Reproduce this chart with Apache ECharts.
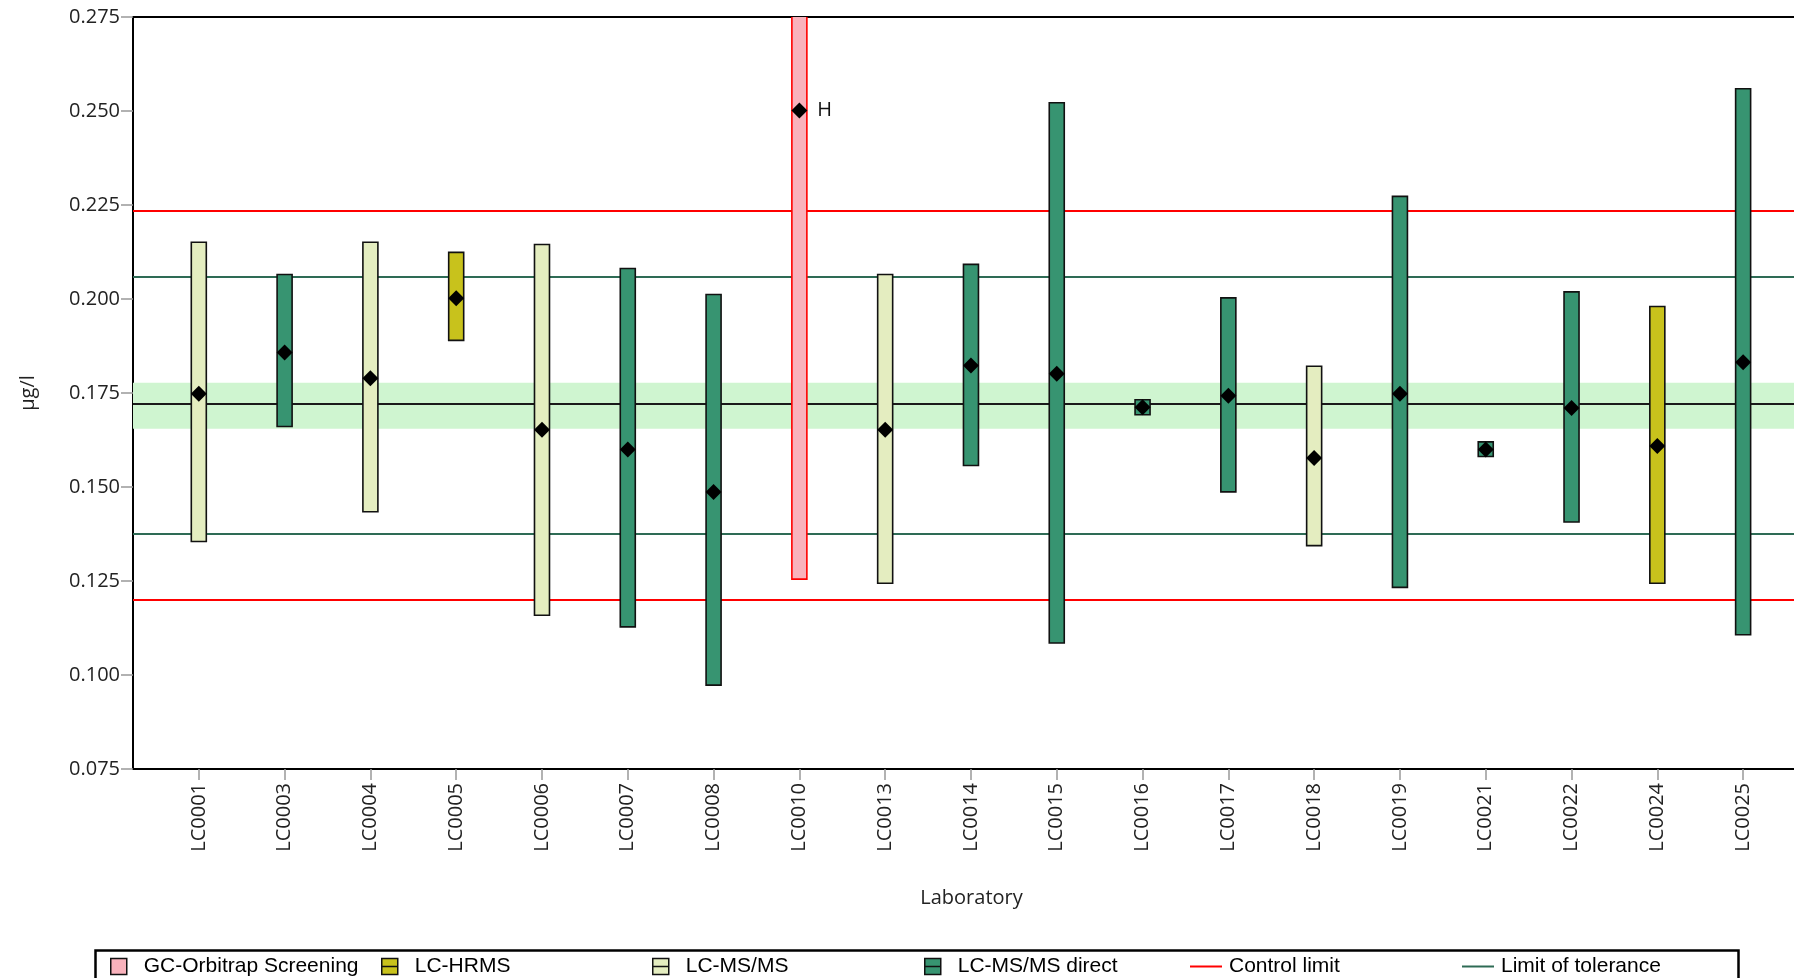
<!DOCTYPE html>
<html>
<head>
<meta charset="utf-8">
<script src="https://cdn.jsdelivr.net/npm/echarts@6/dist/echarts.min.js"></script>
<style>
html,body{margin:0;padding:0;background:#fff;}
#chart{width:1794px;height:978px;}
</style>
</head>
<body>
<div id="chart"></div>
<script>
// ---- data ----
const labs = ['LC0001','LC0003','LC0004','LC0005','LC0006','LC0007','LC0008','LC0010','LC0013','LC0014','LC0015','LC0016','LC0017','LC0018','LC0019','LC0021','LC0022','LC0024','LC0025'];
const methods = ['LC-MS/MS','LC-MS/MS direct','LC-MS/MS','LC-HRMS','LC-MS/MS','LC-MS/MS direct','LC-MS/MS direct','GC-Orbitrap Screening','LC-MS/MS','LC-MS/MS direct','LC-MS/MS direct','LC-MS/MS direct','LC-MS/MS direct','LC-MS/MS','LC-MS/MS direct','LC-MS/MS direct','LC-MS/MS direct','LC-HRMS','LC-MS/MS direct'];
const means = [0.1748,0.1858,0.1789,0.2002,0.1652,0.1600,0.1487,0.2501,0.1652,0.1823,0.1801,0.1712,0.1743,0.1577,0.1748,0.1600,0.1710,0.1609,0.1832];
const lower = [0.1355,0.1661,0.1434,0.1890,0.1159,0.1128,0.0973,0.1255,0.1244,0.1557,0.1085,0.1692,0.1487,0.1344,0.1233,0.1581,0.1407,0.1244,0.1107];
const upper = [0.2151,0.2065,0.2151,0.2124,0.2145,0.2081,0.2012,0.3747,0.2065,0.2092,0.2522,0.1732,0.2003,0.1821,0.2273,0.1620,0.2019,0.1980,0.2559];
const flags = ['','','','','','','','H','','','','','','','','','','',''];
const methodNames = ['GC-Orbitrap Screening','LC-HRMS','LC-MS/MS','LC-MS/MS direct'];
const assignedValue = 0.1721;
const assignedBand = [0.1655, 0.1777];
const controlLimits = [0.1200, 0.2236];
const toleranceLimits = [0.1376, 0.2060];
const yTickValues = [0.075,0.100,0.125,0.150,0.175,0.200,0.225,0.250,0.275];

// ---- styles ----
const fills = {'GC-Orbitrap Screening':'#F9B2BC','LC-HRMS':'#C8C21C','LC-MS/MS':'#E4EDC0','LC-MS/MS direct':'#379471'};
const strokes = {'GC-Orbitrap Screening':'#FF0000','LC-HRMS':'#111','LC-MS/MS':'#111','LC-MS/MS direct':'#111'};
const RED = '#FF0000', TOL = '#2E6B55';
const AXF = 'Open Sans';
const LGF = 'Liberation Sans, Arial, sans-serif';
const idx = labs.map((_, i) => i);
const xMin = -0.767, xMax = 18.593;

const chart = echarts.init(document.getElementById('chart'));

function renderBar(params, api) {
  const x = api.value(0), lo = api.value(1), hi = api.value(2);
  const p1 = api.coord([x, hi]);
  const p2 = api.coord([x, lo]);
  const w = 15;
  const name = params.seriesName;
  return {
    type: 'rect',
    shape: {x: p1[0] - w / 2, y: p1[1], width: w, height: p2[1] - p1[1]},
    style: {fill: fills[name], stroke: strokes[name], lineWidth: 1.6}
  };
}

const mlBase = {silent: true, z: 2, symbol: 'none', precision: 6, label: {show: false}, emphasis: {disabled: true}};

const series = [];
// band + assigned value line
series.push({
  type: 'line', name: 'assigned', data: [], silent: true, z: 1,
  markArea: {silent: true, z: 1, itemStyle: {color: '#CFF5D0'},
    data: [[{yAxis: assignedBand[0]}, {yAxis: assignedBand[1]}]]},
  markLine: Object.assign({}, mlBase, {
    lineStyle: {color: '#1a1a1a', width: 1.8, type: 'solid'},
    data: [{yAxis: assignedValue}]})
});
series.push({
  type: 'line', name: 'Control limit', data: [], z: 2,
  itemStyle: {color: RED}, lineStyle: {color: RED, width: 2},
  markLine: Object.assign({}, mlBase, {
    lineStyle: {color: RED, width: 2, type: 'solid'},
    data: controlLimits.map(v => ({yAxis: v}))})
});
series.push({
  type: 'line', name: 'Limit of tolerance', data: [], z: 2,
  itemStyle: {color: TOL}, lineStyle: {color: TOL, width: 2},
  markLine: Object.assign({}, mlBase, {
    lineStyle: {color: TOL, width: 2, type: 'solid'},
    data: toleranceLimits.map(v => ({yAxis: v}))})
});
methodNames.forEach(m => {
  const d = [];
  labs.forEach((l, i) => { if (methods[i] === m) d.push([i, lower[i], upper[i]]); });
  series.push({
    type: 'custom', name: m, renderItem: renderBar, data: d, clip: true, z: 3,
    encode: {x: 0, y: [1, 2]},
    itemStyle: {color: fills[m], borderColor: '#111', borderWidth: 1.5}
  });
});
series.push({
  type: 'scatter', name: 'mean', z: 4, symbol: 'diamond', symbolSize: 16,
  itemStyle: {color: '#000', opacity: 1}, silent: true,
  data: means.map((v, i) => ({
    value: [i, v],
    label: flags[i] ? {show: true, formatter: flags[i], position: 'right', distance: 10,
      fontSize: 20, fontFamily: AXF, color: '#111'} : {show: false}
  }))
});

const boxIcon = 'path://M0,0H16V8H0Z M0,8H16V16H0Z';
const legendCommon = {
  orient: 'horizontal', padding: 0, selectedMode: false,
  textStyle: {fontSize: 21, fontFamily: LGF, color: '#000'}
};
const legends = [
  {left: 110, name: 'GC-Orbitrap Screening', icon: 'rect'},
  {left: 381, name: 'LC-HRMS', icon: boxIcon},
  {left: 652, name: 'LC-MS/MS', icon: boxIcon},
  {left: 924, name: 'LC-MS/MS direct', icon: boxIcon},
  {left: 1190, name: 'Control limit', icon: 'rect', line: true},
  {left: 1462, name: 'Limit of tolerance', icon: 'rect', line: true}
].map(o => Object.assign({}, legendCommon, {
  left: o.left, top: 956,
  data: [{name: o.name, icon: o.icon}],
  itemWidth: o.line ? 32 : 16,
  itemHeight: o.line ? 2 : 16,
  itemStyle: o.line ? {borderWidth: 0} : {borderColor: '#111', borderWidth: 1.5},
  textStyle: Object.assign({}, legendCommon.textStyle, {padding: o.line ? [0,0,0,2] : [0,0,0,12]})
}));

chart.setOption({
  animation: false,
  backgroundColor: '#fff',
  grid: {left: 133, right: 0, top: 17, bottom: 209, containLabel: false},
  xAxis: [{
    type: 'value', min: xMin, max: xMax, position: 'bottom',
    axisLine: {show: true, onZero: false, lineStyle: {color: '#000', width: 2}},
    axisTick: {show: true, customValues: idx, length: 11, lineStyle: {color: '#999', width: 1.5}},
    axisLabel: {customValues: idx, rotate: 90, margin: 14, fontSize: 20, fontFamily: AXF, color: '#222',
      formatter: v => labs[Math.round(v)]},
    splitLine: {show: false},
    name: 'Laboratory', nameLocation: 'middle', nameGap: 119,
    nameTextStyle: {fontSize: 20, fontFamily: AXF, color: '#222', padding: [0, 0, 0, 16]}
  }, {
    type: 'value', min: xMin, max: xMax, position: 'top',
    axisLine: {show: true, onZero: false, lineStyle: {color: '#000', width: 2}},
    axisTick: {show: false}, axisLabel: {show: false}, splitLine: {show: false}
  }],
  yAxis: {
    type: 'value', min: yTickValues[0], max: yTickValues[yTickValues.length - 1], interval: 0.025,
    axisLine: {show: true, onZero: false, lineStyle: {color: '#000', width: 2}},
    axisTick: {show: true, length: 12, lineStyle: {color: '#999', width: 1.5}},
    axisLabel: {margin: 13, fontSize: 20, fontFamily: AXF, color: '#222', formatter: v => v.toFixed(3)},
    splitLine: {show: false},
    name: 'µg/l', nameLocation: 'middle', nameRotate: 90, nameGap: 95,
    nameTextStyle: {fontSize: 20, fontFamily: AXF, color: '#222'}
  },
  legend: legends,
  graphic: [{
    type: 'rect', left: 93, top: 948, silent: true, z: -1,
    shape: {width: 1643, height: 60},
    style: {fill: 'none', stroke: '#000', lineWidth: 2.5}
  }],
  series: series
});
</script>
</body>
</html>
